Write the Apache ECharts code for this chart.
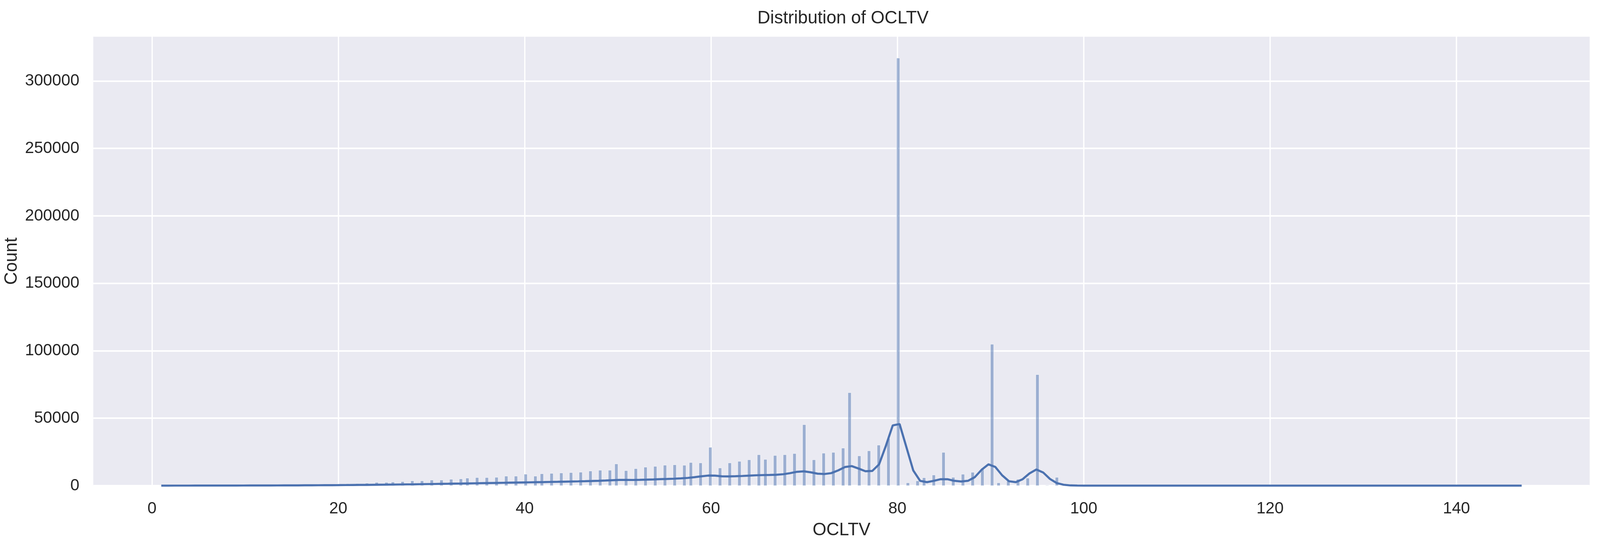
<!DOCTYPE html>
<html>
<head>
<meta charset="utf-8">
<title>Distribution of OCLTV</title>
<script src="https://cdn.jsdelivr.net/npm/echarts@6/dist/echarts.min.js"></script>
<style>
  html, body { margin: 0; padding: 0; background: #fff; overflow: hidden; }
  #chart { width: 100vw; height: 100vh; }
</style>
</head>
<body>
<div id="chart"></div>
<script>
// OCLTV values 1..147 and their counts
const ocltvValues = [];
for (let v = 1; v <= 147; v++) ocltvValues.push(v);

const countsMain = [
  120, 60, 70, 90, 120, 110, 140, 170, 180, 320,
  230, 300, 340, 380, 560, 520, 620, 780, 900, 1350,
  1450, 1600, 1880, 2420, 2420, 2700, 3020, 3600, 3600, 4180,
  4180, 4770, 5060, 5640, 6030, 6030, 6230, 7100, 7100, 8560,
  7100, 8850, 9140, 9440, 9730, 10020, 10900, 11480, 11480, 16150,
  11190, 12650, 13760, 14340, 15200, 15500, 15140, 17170, 16880, 28450,
  13120, 16880, 18040, 19190, 22950, 19480, 22380, 22950, 23820, 45240,
  19190, 24110, 24690, 27870, 68960, 22090, 25850, 30090, 35000, 317000,
  2120, 3570, 5880, 7910, 24690, 6170, 8490, 9930, 12000, 104840,
  2120, 3400, 4730, 5590, 82370, 300, 6170, 500
];
// 99..147, too small to see
const countsTail = [
  150, 90, 25, 20, 15, 18, 30, 12, 10, 8,
  9, 20, 7, 6, 5, 6, 12, 4, 4, 3,
  10, 3, 3, 2, 2, 8, 2, 2, 1, 1,
  6, 1, 1, 1, 1, 4, 1, 1, 1, 1,
  3, 1, 1, 0, 0, 2, 0, 0, 1
];
const counts = countsMain.concat(countsTail);

// histogram bins (seaborn auto bins over the data range)
const binMin = 1;
const binMax = 147;
const binCount = 420;

// kde curve, evaluated on an even grid from binMin to binMax
const kdeValues = [
  20, 25, 30, 35, 40, 46, 52, 59, 66, 74,
  83, 93, 104, 116, 129, 143, 158, 175, 194, 215,
  238, 263, 290, 320, 352, 387, 425, 466, 510, 557,
  607, 660, 716, 775, 837, 902, 970, 1040, 1115, 1190,
  1270, 1350, 1430, 1515, 1600, 1690, 1780, 1870, 1960, 2050,
  2140, 2230, 2320, 2410, 2500, 2590, 2680, 2780, 2880, 2990,
  3100, 3220, 3350, 3490, 3640, 3820, 4050, 4250, 4250, 4230,
  4330, 4480, 4650, 4830, 5000, 5180, 5400, 5750, 6300, 6950,
  7500, 7450, 6950, 6850, 7000, 7200, 7450, 7700, 7850, 7950,
  8100, 8500, 9300, 10300, 10650, 9900, 8900, 8650, 9300, 11300,
  13800, 14500, 12700, 10700, 10900, 15800, 29600, 44700, 45700, 28500,
  11300, 3600, 2600, 3600, 4800, 4800, 3600, 3100, 3600, 6300,
  11800, 15800, 13900, 7700, 3300, 2600, 4800, 9100, 12000, 9800,
  5000, 1900, 680, 190, 60, 25, 12, 7, 5, 4,
  3, 3, 3, 2, 2, 2, 2, 2, 2, 2,
  2, 2, 2, 1, 1, 1, 1, 1, 1, 1,
  1, 1, 1, 1, 1, 1, 1, 1, 1, 1,
  1, 1, 1, 1, 1, 1, 1, 1, 1, 1,
  1, 1, 1, 1, 1, 1, 1, 1, 1, 1,
  1, 1, 1, 1, 1, 1, 1, 1, 1, 1
];

const xTicks = [0, 20, 40, 60, 80, 100, 120, 140];
const yTicks = [0, 50000, 100000, 150000, 200000, 250000, 300000];

const blue = "#4c72b0";
const textColor = "#262626";
const font = "Liberation Sans, Arial, sans-serif";

// layout was measured on a 4965x1419 picture, the window may be narrower
const sx = window.innerWidth / 4965;
const sy = window.innerHeight / 1419;
const sf = Math.sqrt(sx * sy);
const px = (v) => v * sx;
const py = (v) => v * sy;
const pf = (v) => v * sf;

// put every value in its bin
const binWidth = (binMax - binMin) / binCount;
const histData = [];
ocltvValues.forEach((v, i) => {
  const idx = Math.min(binCount - 1, Math.floor((v - binMin) / binWidth));
  const left = binMin + idx * binWidth;
  histData.push([left, left + binWidth, counts[i]]);
});

const kdeStep = (binMax - binMin) / (kdeValues.length - 1);
const kdeData = kdeValues.map((y, i) => [binMin + i * kdeStep, y]);

// matplotlib style 5% margins on x, sticky zero on y
const xPad = (binMax - binMin) * 0.05;
const yMax = Math.max(...counts) * 1.05;

const chart = echarts.init(document.getElementById("chart"), null, {renderer: "canvas"});

chart.setOption({
  backgroundColor: "#ffffff",
  animation: false,
  title: {
    text: "Distribution of OCLTV",
    left: px(2610),
    textAlign: "center",
    top: py(20),
    textStyle: {fontFamily: font, fontSize: pf(50), fontWeight: "normal", color: textColor},
  },
  grid: {
    left: px(288), right: px(32), top: py(94), bottom: py(175),
    show: true, backgroundColor: "#eaeaf2", borderWidth: 0,
  },
  xAxis: {
    type: "value",
    min: binMin - xPad,
    max: binMax + xPad,
    name: "OCLTV",
    nameLocation: "middle",
    nameGap: py(92),
    nameTextStyle: {fontFamily: font, fontSize: pf(50), color: textColor},
    axisLine: {show: false},
    axisTick: {show: false, customValues: xTicks},
    axisLabel: {customValues: xTicks, fontFamily: font, fontSize: pf(46), color: textColor, margin: py(38)},
    splitLine: {show: true, lineStyle: {color: "#ffffff", width: px(4)}},
  },
  yAxis: {
    type: "value",
    min: 0,
    max: yMax,
    name: "Count",
    nameLocation: "middle",
    nameGap: px(188),
    nameTextStyle: {fontFamily: font, fontSize: pf(50), color: textColor},
    axisLine: {show: false},
    axisTick: {show: false, customValues: yTicks},
    axisLabel: {
      customValues: yTicks, fontFamily: font, fontSize: pf(46), color: textColor, margin: px(43),
      formatter: (v) => String(v),
    },
    splitLine: {show: true, lineStyle: {color: "#ffffff", width: py(4)}},
  },
  series: [
    {
      type: "custom",
      name: "hist",
      data: histData,
      encode: {x: [0, 1], y: 2},
      clip: true,
      z: 2,
      renderItem: (params, api) => {
        const top = api.coord([api.value(0), api.value(2)]);
        const bottom = api.coord([api.value(1), 0]);
        return {
          type: "rect",
          shape: {x: top[0], y: top[1], width: bottom[0] - top[0], height: bottom[1] - top[1]},
          style: {fill: "rgba(76,114,176,0.5)", stroke: "rgba(255,255,255,0.8)", lineWidth: 1},
        };
      },
    },
    {
      type: "line",
      name: "kde",
      data: kdeData,
      showSymbol: false,
      smooth: false,
      clip: true,
      z: 3,
      lineStyle: {color: blue, width: pf(6)},
    },
  ],
});
</script>
</body>
</html>
